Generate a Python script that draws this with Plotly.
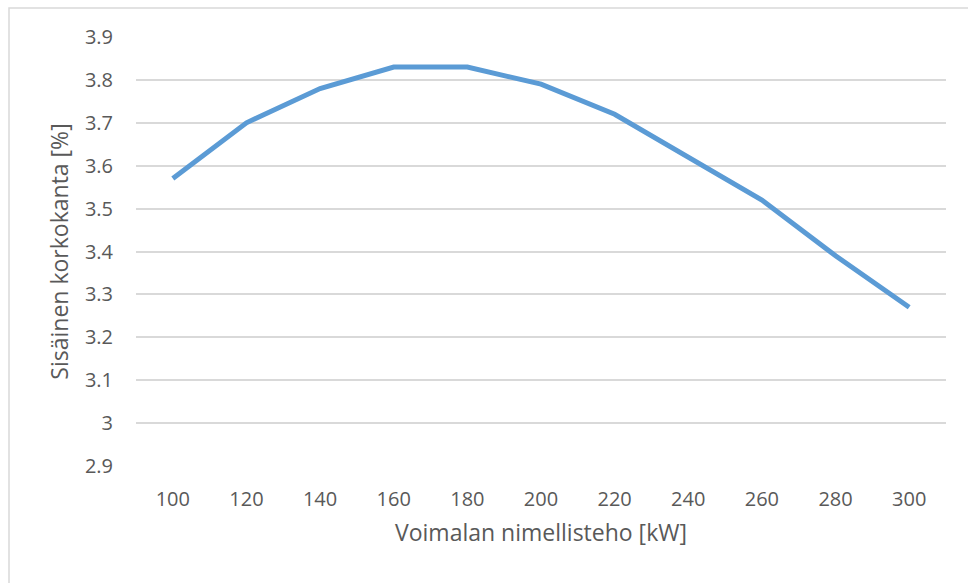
import plotly.graph_objects as go

# Nominal plant power [kW] and internal rate of return [%]
teho_kw = [100, 120, 140, 160, 180, 200, 220, 240, 260, 280, 300]
korkokanta = [3.57, 3.70, 3.78, 3.83, 3.83, 3.79, 3.72, 3.62, 3.52, 3.39, 3.27]

y_ticks = [2.9, 3.0, 3.1, 3.2, 3.3, 3.4, 3.5, 3.6, 3.7, 3.8, 3.9]
y_tick_labels = ["2.9", "3", "3.1", "3.2", "3.3", "3.4", "3.5", "3.6", "3.7", "3.8", "3.9"]

x_title = "Voimalan nimellisteho [kW]"
y_title = "Sisäinen korkokanta [%]"

W, H = 968, 583
L, R, T, B = 136, 22, 37, 117
pw, ph = W - L - R, H - T - B

fig = go.Figure()
fig.add_trace(go.Scatter(
    x=teho_kw, y=korkokanta, mode="lines",
    line=dict(color="#5B9BD5", width=5),
    hoverinfo="x+y",
))

font_family = "Open Sans, Noto Sans, sans-serif"
text_color = "#595959"

fig.update_layout(
    width=W, height=H,
    margin=dict(l=L, r=R, t=T, b=B),
    paper_bgcolor="white", plot_bgcolor="white",
    showlegend=False,
    font=dict(family=font_family, color=text_color, size=20),
    xaxis=dict(
        range=[90, 310],
        tickvals=teho_kw,
        showgrid=False, zeroline=False, showline=False,
        ticks="", ticklabelstandoff=19,
        tickfont=dict(size=20, color=text_color),
        title=dict(text=x_title, font=dict(size=23, color=text_color), standoff=13),
        fixedrange=True,
    ),
    yaxis=dict(
        range=[2.9, 3.9],
        tickvals=y_ticks, ticktext=y_tick_labels,
        showgrid=True, gridcolor="#D9D9D9", gridwidth=1.5,
        zeroline=False, showline=False,
        ticks="", ticklabelstandoff=22,
        tickfont=dict(size=20, color=text_color),
        title=dict(text=y_title, font=dict(size=23, color=text_color), standoff=9),
        fixedrange=True,
    ),
)

# Chart frame (left and top edges visible inside the page)
fig.add_shape(
    type="rect", xref="paper", yref="paper",
    x0=(9 - L) / pw, x1=(W + 20 - L) / pw,
    y0=-(H + 20 - T - ph) / ph, y1=1 + (T - 8) / ph,
    line=dict(color="#D9D9D9", width=1.5), fillcolor="rgba(0,0,0,0)",
    layer="below",
)

fig.write_html("out.html")
